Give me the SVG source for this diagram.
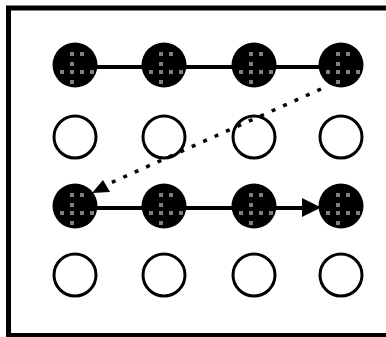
<svg xmlns="http://www.w3.org/2000/svg" xmlns:xlink="http://www.w3.org/1999/xlink" width="386" height="337" viewBox="0 0 386 337">
<style>
.frame{fill:none;stroke:#000;stroke-width:5}
.edge{stroke:#000;stroke-width:4;fill:none}
.dot{stroke:#000;stroke-width:3.5;fill:none;stroke-dasharray:4 8.5}
.empty{fill:none;stroke:#000;stroke-width:3}
.gs{fill:#808080}
</style>
<defs>
<g id="full">
<circle r="22.5" fill="#000"/>
<rect class="gs" x="-5" y="-13" width="4" height="4"/>
<rect class="gs" x="5" y="-13" width="4" height="4"/>
<rect class="gs" x="-5" y="-3" width="4" height="4"/>
<rect class="gs" x="-15" y="5" width="4" height="4"/>
<rect class="gs" x="-5" y="5" width="4" height="4"/>
<rect class="gs" x="5" y="5" width="4" height="4"/>
<rect class="gs" x="15" y="5" width="4" height="4"/>
<rect class="gs" x="-5" y="15" width="4" height="4"/>
</g>
</defs>
<rect class="frame" x="8.5" y="8" width="420" height="327.5"/>
<g id="connectors">
<line class="edge" x1="75" y1="67" x2="341" y2="67"/>
<line class="edge" x1="75" y1="208" x2="304" y2="208"/>
<path d="M302,198 L321,207.5 L302,217 Z" fill="#000"/>
<line class="dot" x1="321" y1="89" x2="106" y2="185"/>
<path d="M92,193 L103,180 L110,192 Z" fill="#000"/>
</g>
<g id="n11"><use xlink:href="#full" x="75" y="65"/></g>
<g id="n12"><use xlink:href="#full" x="164" y="65"/></g>
<g id="n13"><use xlink:href="#full" x="254" y="65"/></g>
<g id="n14"><use xlink:href="#full" x="341" y="65"/></g>
<g id="n21"><circle class="empty" cx="75" cy="137" r="21"/></g>
<g id="n22"><circle class="empty" cx="164" cy="137" r="21"/></g>
<g id="n23"><circle class="empty" cx="254" cy="137" r="21"/></g>
<g id="n24"><circle class="empty" cx="341" cy="137" r="21"/></g>
<g id="n31"><use xlink:href="#full" x="75" y="206"/></g>
<g id="n32"><use xlink:href="#full" x="164" y="206"/></g>
<g id="n33"><use xlink:href="#full" x="254" y="206"/></g>
<g id="n34"><use xlink:href="#full" x="341" y="206"/></g>
<g id="n41"><circle class="empty" cx="75" cy="275" r="21"/></g>
<g id="n42"><circle class="empty" cx="164" cy="275" r="21"/></g>
<g id="n43"><circle class="empty" cx="254" cy="275" r="21"/></g>
<g id="n44"><circle class="empty" cx="341" cy="275" r="21"/></g>
</svg>
